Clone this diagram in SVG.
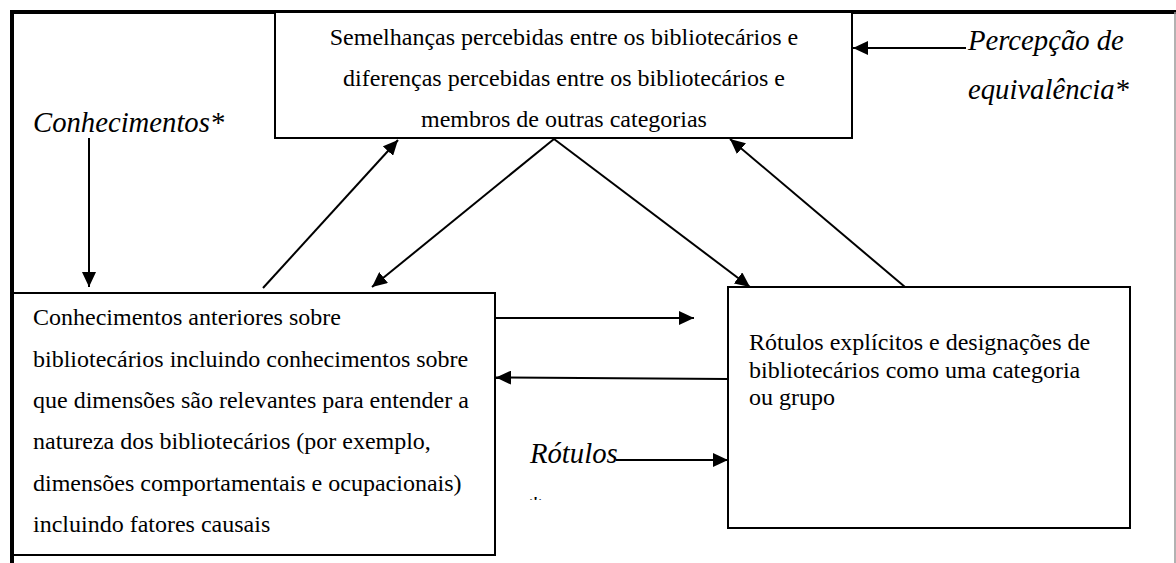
<svg xmlns="http://www.w3.org/2000/svg" width="1176" height="563" viewBox="0 0 1176 563">
<style>
.box{fill:#fff;stroke:#000;stroke-width:2}
.c{fill:none;stroke:#000;stroke-width:2}
</style>
<defs>
<marker id="ah" markerUnits="userSpaceOnUse" markerWidth="16" markerHeight="14" refX="15" refY="7" orient="auto">
<path d="M0,0 L15,7 L0,14 z" fill="#000"/>
</marker>
<clipPath id="starclip"><rect x="520" y="480" width="40" height="20"/></clipPath>
</defs>
<rect width="1176" height="563" fill="#fff"/>
<g id="frame">
<line x1="10" y1="12" x2="1176" y2="12" stroke="#000" stroke-width="4"/>
<line x1="12" y1="10" x2="12" y2="563" stroke="#000" stroke-width="4"/>
<line x1="1175" y1="12" x2="1175" y2="563" stroke="#999" stroke-width="1.5"/>
</g>
<g id="node-semelhancas" font-family="'Liberation Serif', serif" font-size="24" fill="#000">
<rect class="box" x="275" y="12" width="577" height="126"/>
<text text-anchor="middle" x="564" y="45">Semelhanças percebidas entre os bibliotecários e</text>
<text text-anchor="middle" x="564" y="86">diferenças percebidas entre os bibliotecários e</text>
<text text-anchor="middle" x="564" y="127">membros de outras categorias</text>
</g>
<g id="node-conhecimentos-anteriores" font-family="'Liberation Serif', serif" font-size="24" fill="#000">
<rect class="box" x="13" y="293" width="482" height="262"/>
<text x="33" y="325">Conhecimentos anteriores sobre</text>
<text x="33" y="366.5">bibliotecários incluindo conhecimentos sobre</text>
<text x="33" y="408">que dimensões são relevantes para entender a</text>
<text x="33" y="449">natureza dos bibliotecários (por exemplo,</text>
<text x="33" y="490.5">dimensões comportamentais e ocupacionais)</text>
<text x="33" y="532">incluindo fatores causais</text>
</g>
<g id="node-rotulos-explicitos" font-family="'Liberation Serif', serif" font-size="24" fill="#000">
<rect class="box" x="728" y="287" width="402" height="241"/>
<text x="749" y="350">Rótulos explícitos e designações de</text>
<text x="749" y="377.5">bibliotecários como uma categoria</text>
<text x="749" y="405">ou grupo</text>
</g>
<g id="label-conhecimentos" font-family="'Liberation Serif', serif" font-size="28.7" font-style="italic" fill="#000">
<text x="33" y="132">Conhecimentos*</text>
</g>
<g id="label-percepcao" font-family="'Liberation Serif', serif" font-size="28.7" font-style="italic" fill="#000">
<text x="968" y="50">Percepção de</text>
<text x="968" y="99">equivalência*</text>
</g>
<g id="label-rotulos" font-family="'Liberation Serif', serif" font-size="28.7" font-style="italic" fill="#000">
<text x="530" y="463">Rótulos</text>
<text x="527" y="516" clip-path="url(#starclip)">*</text>
</g>
<g id="connectors">
<line class="c" x1="89" y1="138" x2="89" y2="287" marker-end="url(#ah)"/>
<line class="c" x1="966" y1="48" x2="853" y2="48" marker-end="url(#ah)"/>
<line class="c" x1="263" y1="288" x2="398" y2="140" marker-end="url(#ah)"/>
<line class="c" x1="554" y1="139" x2="372" y2="287" marker-end="url(#ah)"/>
<line class="c" x1="554" y1="139" x2="750" y2="287" marker-end="url(#ah)"/>
<line class="c" x1="905" y1="287" x2="730" y2="139" marker-end="url(#ah)"/>
<line class="c" x1="495" y1="318" x2="694" y2="318" marker-end="url(#ah)"/>
<line class="c" x1="728" y1="379" x2="496" y2="377.5" marker-end="url(#ah)"/>
<line class="c" x1="616" y1="460" x2="728" y2="460" marker-end="url(#ah)"/>
</g>
</svg>
